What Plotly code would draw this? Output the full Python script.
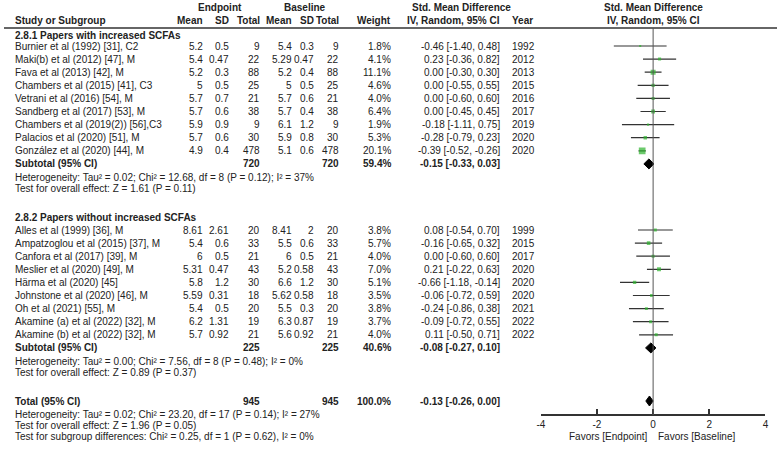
import plotly.graph_objects as go

# ---- values ----
group1_title = "2.8.1 Papers with increased SCFAs"
group1_names = ["Burnier et al (1992) [31], C2", "Maki(b) et al (2012) [47], M", "Fava et al (2013) [42], M",
                "Chambers et al (2015) [41], C3", "Vetrani et al (2016) [54], M", "Sandberg et al (2017) [53], M",
                "Chambers et al (2019(2)) [56],C3", "Palacios et al (2020) [51], M", "González et al (2020) [44], M"]
group1_end_mean = [5.2, 5.4, 5.2, 5, 5.7, 5.7, 5.9, 5.7, 4.9]
group1_end_sd = [0.5, 0.47, 0.3, 0.5, 0.7, 0.6, 0.9, 0.6, 0.4]
group1_end_n = [9, 22, 88, 25, 21, 38, 9, 30, 478]
group1_base_mean = [5.4, 5.29, 5.2, 5, 5.7, 5.7, 6.1, 5.9, 5.1]
group1_base_sd = [0.3, 0.47, 0.4, 0.5, 0.6, 0.4, 1.2, 0.8, 0.6]
group1_base_n = [9, 22, 88, 25, 21, 38, 9, 30, 478]
group1_weight = [1.8, 4.1, 11.1, 4.6, 4.0, 6.4, 1.9, 5.3, 20.1]
group1_smd = [-0.46, 0.23, 0.00, 0.00, 0.00, 0.00, -0.18, -0.28, -0.39]
group1_lo = [-1.40, -0.36, -0.30, -0.55, -0.60, -0.45, -1.11, -0.79, -0.52]
group1_hi = [0.48, 0.82, 0.30, 0.55, 0.60, 0.45, 0.75, 0.23, -0.26]
group1_year = [1992, 2012, 2013, 2015, 2016, 2017, 2019, 2020, 2020]
group1_sub = dict(n_end=720, n_base=720, weight=59.4, smd=-0.15, lo=-0.33, hi=0.03)
group1_het = "Heterogeneity: Tau² = 0.02; Chi² = 12.68, df = 8 (P = 0.12); I² = 37%"
group1_test = "Test for overall effect: Z = 1.61 (P = 0.11)"

group2_title = "2.8.2 Papers without increased SCFAs"
group2_names = ["Alles et al (1999) [36], M", "Ampatzoglou et al (2015) [37], M", "Canfora et al (2017) [39], M",
                "Meslier et al (2020) [49], M", "Härma et al (2020) [45]", "Johnstone et al (2020) [46], M",
                "Oh et al (2021) [55], M", "Akamine (a) et al (2022) [32], M", "Akamine (b) et al (2022) [32], M"]
group2_end_mean = [8.61, 5.4, 6, 5.31, 5.8, 5.59, 5.4, 6.2, 5.7]
group2_end_sd = [2.61, 0.6, 0.5, 0.47, 1.2, 0.31, 0.5, 1.31, 0.92]
group2_end_n = [20, 33, 21, 43, 30, 18, 20, 19, 21]
group2_base_mean = [8.41, 5.5, 6, 5.2, 6.6, 5.62, 5.5, 6.3, 5.6]
group2_base_sd = [2, 0.6, 0.5, 0.58, 1.2, 0.58, 0.3, 0.87, 0.92]
group2_base_n = [20, 33, 21, 43, 30, 18, 20, 19, 21]
group2_weight = [3.8, 5.7, 4.0, 7.0, 5.1, 3.5, 3.8, 3.7, 4.0]
group2_smd = [0.08, -0.16, 0.00, 0.21, -0.66, -0.06, -0.24, -0.09, 0.11]
group2_lo = [-0.54, -0.65, -0.60, -0.22, -1.18, -0.72, -0.86, -0.72, -0.50]
group2_hi = [0.70, 0.32, 0.60, 0.63, -0.14, 0.59, 0.38, 0.55, 0.71]
group2_year = [1999, 2015, 2017, 2020, 2020, 2020, 2021, 2022, 2022]
group2_sub = dict(n_end=225, n_base=225, weight=40.6, smd=-0.08, lo=-0.27, hi=0.10)
group2_het = "Heterogeneity: Tau² = 0.00; Chi² = 7.56, df = 8 (P = 0.48); I² = 0%"
group2_test = "Test for overall effect: Z = 0.89 (P = 0.37)"

total = dict(n_end=945, n_base=945, weight=100.0, smd=-0.13, lo=-0.26, hi=0.00)
total_het = "Heterogeneity: Tau² = 0.02; Chi² = 23.20, df = 17 (P = 0.14); I² = 27%"
total_test = "Test for overall effect: Z = 1.96 (P = 0.05)"
subgroup_test = "Test for subgroup differences: Chi² = 0.25, df = 1 (P = 0.62), I² = 0%"

axis_ticks = [-4, -2, 0, 2, 4]
favors_left = "Favors [Endpoint]"
favors_right = "Favors [Baseline]"

# ---- layout constants (page pixels) ----
W, H = 780, 450
FONT = "Liberation Sans, Arial, sans-serif"
INK = "#222222"
GREEN = "#2db42d"
PITCH = 13.1
X_NAME = 9
X_EM, X_ESD, X_EN = 203, 229, 260
X_BM, X_BSD, X_BN = 293, 315, 340
X_W, X_CI, X_YEAR = 393, 503, 511
AXIS_Y = 415
PLOT_L, PLOT_R = 541.7, 768.3

annotations = []


def txt(x, y, s, anchor="left", bold=False, xref="paper"):
    xv = x / W if xref == "paper" else x
    annotations.append(dict(x=xv, y=y, xref=xref, yref="y", text=f"<b>{s}</b>" if bold else str(s),
                            showarrow=False, xanchor=anchor, yanchor="middle",
                            font=dict(family=FONT, size=10, color=INK)))


def ci_text(smd, lo, hi):
    return f"{smd:.2f} [{lo:.2f}, {hi:.2f}]"


# header
txt(218, 7, "Endpoint", "center", True)
txt(304, 7, "Baseline", "center", True)
txt(462, 7, "Std. Mean Difference", "center", True)
txt(X_NAME, 20, "Study or Subgroup", bold=True)
for x, s in [(X_EM, "Mean"), (X_ESD, "SD"), (X_EN, "Total"), (X_BM, "Mean"), (X_BSD, "SD"),
             (X_BN, "Total"), (X_W, "Weight"), (X_CI, "IV, Random, 95% CI")]:
    txt(x, 20, s, "right", True)
txt(X_YEAR, 20, "Year", bold=True)
txt(0, 7, "Std. Mean Difference", "center", True, xref="x")
txt(0, 20, "IV, Random, 95% CI", "center", True, xref="x")

fig = go.Figure()
ci_x, ci_y, sq_x, sq_y, sq_s = [], [], [], [], []


def diamond(d, y):
    fig.add_trace(go.Scatter(x=[d["lo"], d["smd"], d["hi"], d["smd"], d["lo"]], y=[y, y - 5, y, y + 5, y],
                             mode="lines", fill="toself", fillcolor="black",
                             line=dict(color="black", width=1), hoverinfo="skip", showlegend=False))


def summary_row(label, d, y):
    txt(X_NAME, y, label, bold=True)
    txt(X_EN, y, d["n_end"], "right", True)
    txt(X_BN, y, d["n_base"], "right", True)
    txt(X_W, y, f"{d['weight']:.1f}%", "right", True)
    txt(X_CI, y, ci_text(d["smd"], d["lo"], d["hi"]), "right", True)
    diamond(d, y)


def group(title, y_title, y_first, names, em, esd, en, bm, bsd, bn, w, smd, lo, hi, yr, sub, het, test):
    txt(X_NAME, y_title, title, bold=True)
    for i, name in enumerate(names):
        y = y_first + PITCH * i
        txt(X_NAME, y, name)
        txt(X_EM, y, f"{em[i]:g}", "right")
        txt(X_ESD, y, f"{esd[i]:g}", "right")
        txt(X_EN, y, en[i], "right")
        txt(X_BM, y, f"{bm[i]:g}", "right")
        txt(X_BSD, y, f"{bsd[i]:g}", "right")
        txt(X_BN, y, bn[i], "right")
        txt(X_W, y, f"{w[i]:.1f}%", "right")
        txt(X_CI, y, ci_text(smd[i], lo[i], hi[i]), "right")
        txt(X_YEAR, y, yr[i])
        ci_x.extend([lo[i], hi[i], None])
        ci_y.extend([y, y, None])
        sq_x.append(smd[i])
        sq_y.append(y)
        sq_s.append(1.5 * w[i] ** 0.5)
    y_sub = y_first + PITCH * len(names)
    summary_row("Subtotal (95% CI)", sub, y_sub)
    txt(X_NAME, y_sub + 14, het)
    txt(X_NAME, y_sub + 25, test)
    return y_sub


group(group1_title, 35, 46, group1_names, group1_end_mean, group1_end_sd, group1_end_n,
      group1_base_mean, group1_base_sd, group1_base_n, group1_weight, group1_smd, group1_lo,
      group1_hi, group1_year, group1_sub, group1_het, group1_test)
group(group2_title, 217, 230, group2_names, group2_end_mean, group2_end_sd, group2_end_n,
      group2_base_mean, group2_base_sd, group2_base_n, group2_weight, group2_smd, group2_lo,
      group2_hi, group2_year, group2_sub, group2_het, group2_test)

summary_row("Total (95% CI)", total, 401)
txt(X_NAME, 414, total_het)
txt(X_NAME, 425, total_test)
txt(X_NAME, 436, subgroup_test)

fig.add_trace(go.Scatter(x=ci_x, y=ci_y, mode="lines", line=dict(color="#333333", width=1.2),
                         hoverinfo="skip", showlegend=False))
fig.add_trace(go.Scatter(x=sq_x, y=sq_y, mode="markers",
                         marker=dict(symbol="square", size=sq_s, color=GREEN, line=dict(width=0)),
                         showlegend=False))

annotations.append(dict(x=0, y=436, xref="x", yref="y", text=favors_left, showarrow=False,
                        xanchor="right", yanchor="middle", xshift=-3,
                        font=dict(family=FONT, size=10, color=INK)))
annotations.append(dict(x=0, y=436, xref="x", yref="y", text=favors_right, showarrow=False,
                        xanchor="left", yanchor="middle", xshift=3,
                        font=dict(family=FONT, size=10, color=INK)))

fig.update_layout(
    width=W, height=H, margin=dict(l=0, r=0, t=0, b=0),
    paper_bgcolor="white", plot_bgcolor="white",
    annotations=annotations,
    shapes=[
        dict(type="line", xref="paper", yref="y", x0=0, x1=1, y0=28, y1=28,
             line=dict(color="#333333", width=1.5)),
        dict(type="line", xref="x", yref="y", x0=0, x1=0, y0=28, y1=AXIS_Y,
             line=dict(color="#555555", width=1)),
    ],
    xaxis=dict(domain=[PLOT_L / W, PLOT_R / W], range=[-4, 4], anchor="free",
               position=(H - AXIS_Y) / H, showline=True, linecolor="#333333", linewidth=1.5,
               ticks="inside", ticklen=5, tickwidth=1.5, tickcolor="#333333",
               tickvals=axis_ticks, ticktext=[str(t) for t in axis_ticks],
               tickfont=dict(family=FONT, size=10, color=INK),
               showgrid=False, zeroline=False, fixedrange=True),
    yaxis=dict(domain=[0, 1], range=[H, 0], visible=False, fixedrange=True),
    showlegend=False,
)

# the page body has an 8px default margin; drop it so the figure sits at the window corner
fig.write_html("out.html", config={"displayModeBar": False},
               post_script="document.body.style.margin='0';")
